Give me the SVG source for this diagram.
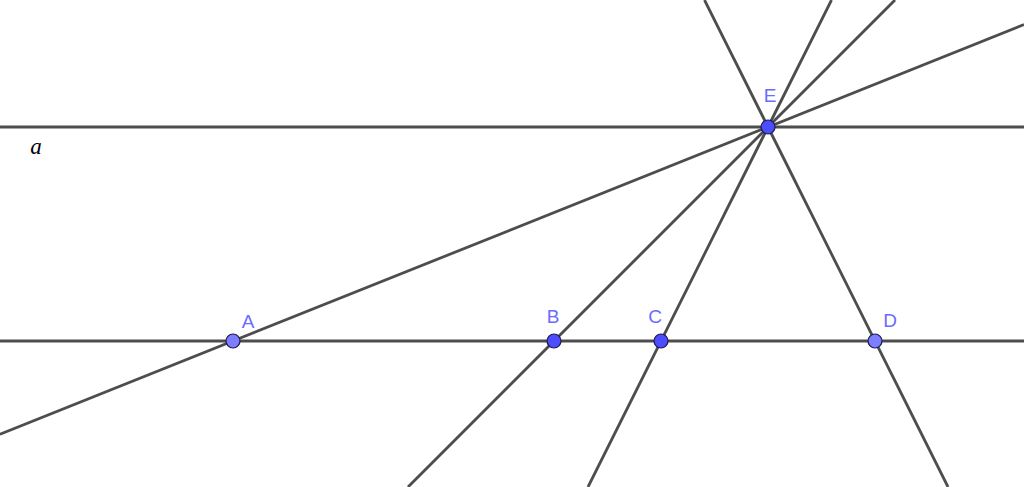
<svg xmlns="http://www.w3.org/2000/svg" width="1024" height="487" viewBox="0 0 1024 487">
<style>
.ln{stroke:#4d4d4d;stroke-width:2.8;fill:none}
.pt{stroke:#1a1a4d;stroke-width:1.2}
.dark{fill:#4d4dff}
.light{fill:#7d7dff}
.lbl{font-family:"Liberation Sans",Arial,sans-serif;font-size:19px;fill:#6b6bff;text-anchor:middle}
.name{font-family:"Liberation Serif","Times New Roman",serif;font-style:italic;font-size:23px;fill:#000}
</style>
<rect width="1024" height="487" fill="#fff"/>
<g id="connectors">
<line class="ln" x1="0" y1="127" x2="1024" y2="127"/>
<line class="ln" x1="0" y1="341" x2="1024" y2="341"/>
<line class="ln" x1="0" y1="434.2" x2="1024" y2="24.6"/>
<line class="ln" x1="408" y1="487" x2="895" y2="0"/>
<line class="ln" x1="588" y1="487" x2="831.5" y2="0"/>
<line class="ln" x1="948" y1="487" x2="704.5" y2="0"/>
</g>
<g id="line-a"><text class="name" x="36" y="154" text-anchor="middle">a</text></g>
<g id="E"><circle class="pt dark" cx="768" cy="127" r="7"/><text class="lbl" x="770" y="102">E</text></g>
<g id="A"><circle class="pt light" cx="233" cy="341" r="7"/><text class="lbl" x="248" y="328">A</text></g>
<g id="B"><circle class="pt dark" cx="554" cy="341" r="7"/><text class="lbl" x="553" y="323">B</text></g>
<g id="C"><circle class="pt dark" cx="661" cy="341" r="7"/><text class="lbl" x="655" y="323">C</text></g>
<g id="D"><circle class="pt light" cx="875" cy="341" r="7"/><text class="lbl" x="890" y="327">D</text></g>
</svg>
